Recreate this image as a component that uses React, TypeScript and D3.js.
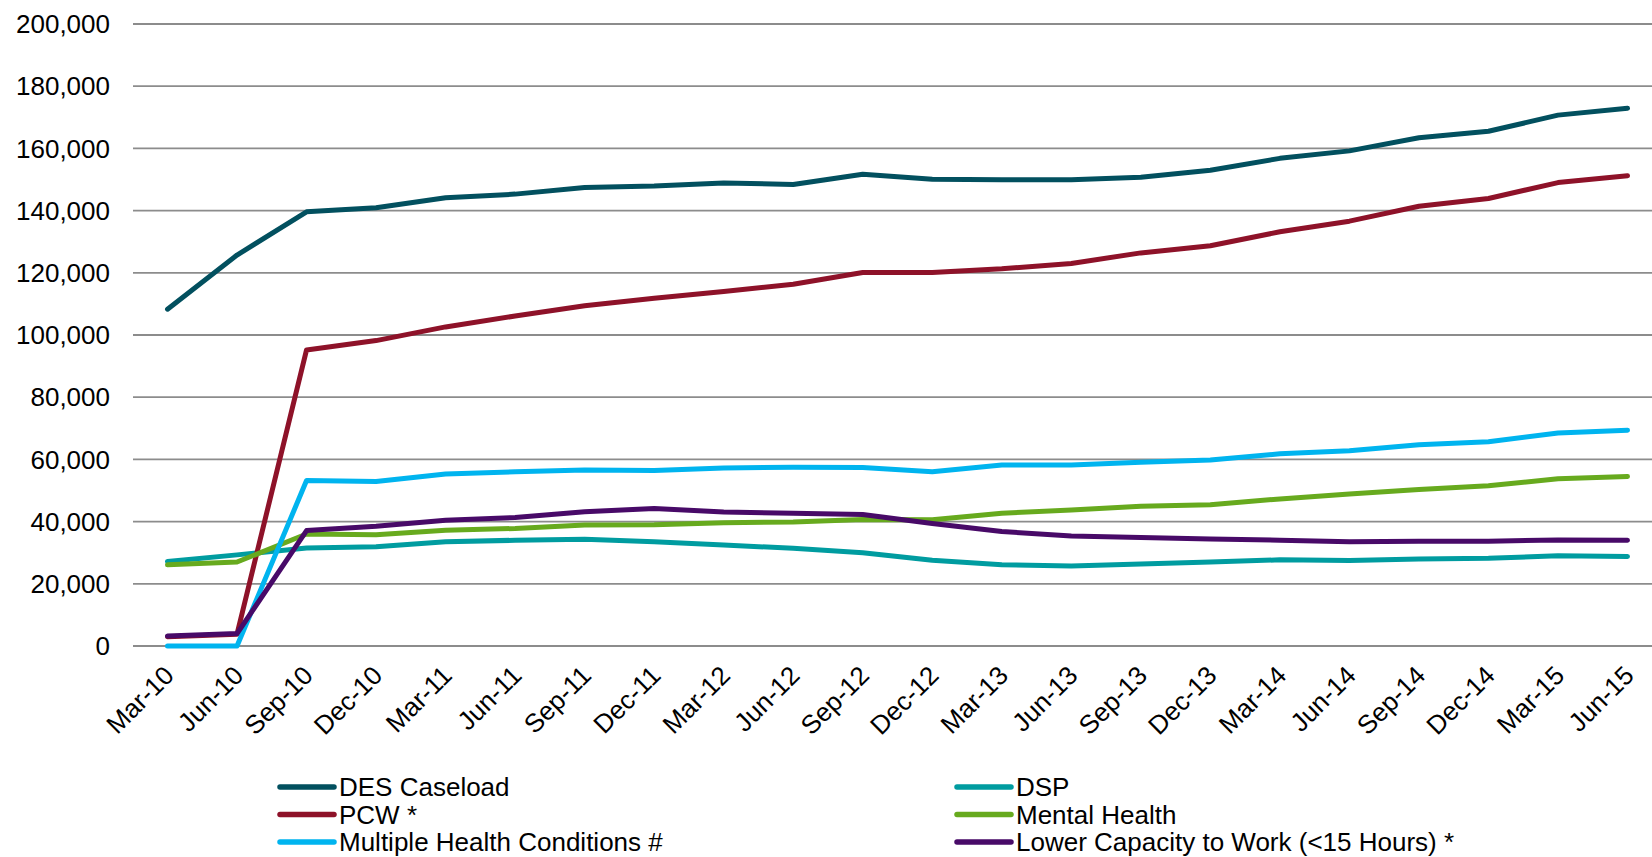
import React from "react";
import * as d3 from "d3";

const categories = [
  "Mar-10", "Jun-10", "Sep-10", "Dec-10", "Mar-11", "Jun-11", "Sep-11", "Dec-11",
  "Mar-12", "Jun-12", "Sep-12", "Dec-12", "Mar-13", "Jun-13", "Sep-13", "Dec-13",
  "Mar-14", "Jun-14", "Sep-14", "Dec-14", "Mar-15", "Jun-15",
];

const desCaseload = [108300, 125700, 139600, 140900, 144100, 145300, 147400, 147900, 148900, 148400, 151700, 150100, 149900, 149900, 150700, 153000, 156800, 159200, 163400, 165500, 170700, 172900];
const dsp = [27200, 29300, 31500, 31900, 33500, 34000, 34300, 33500, 32500, 31400, 30000, 27600, 26100, 25700, 26400, 27000, 27700, 27500, 28000, 28200, 29000, 28800];
const pcw = [3000, 3800, 95200, 98200, 102600, 106100, 109400, 111800, 114000, 116300, 120100, 120100, 121300, 123000, 126400, 128700, 133200, 136600, 141400, 143900, 149000, 151200];
const mentalHealth = [26100, 27000, 36000, 35800, 37200, 37800, 38900, 39000, 39600, 39900, 40700, 40600, 42700, 43700, 44900, 45400, 47300, 48900, 50300, 51500, 53800, 54500];
const multipleHealth = [0, 0, 53200, 52900, 55300, 56000, 56600, 56400, 57200, 57500, 57400, 56000, 58200, 58200, 59100, 59800, 61800, 62800, 64700, 65700, 68500, 69400];
const lowerCapacity = [3200, 4000, 37100, 38500, 40400, 41300, 43200, 44200, 43100, 42700, 42300, 39400, 36800, 35400, 34900, 34400, 34000, 33500, 33700, 33700, 34100, 34000];

const yTicks = [0, 20000, 40000, 60000, 80000, 100000, 120000, 140000, 160000, 180000, 200000];

const seriesNames = [
  "DES Caseload", "DSP", "PCW *", "Mental Health", "Multiple Health Conditions #", "Lower Capacity to Work (<15 Hours) *",
];
const seriesData = [desCaseload, dsp, pcw, mentalHealth, multipleHealth, lowerCapacity];
const seriesColors = ["#02505f", "#009ca0", "#8e1229", "#67aa1e", "#00b4ef", "#480a68"];

const W = 1652;
const H = 857;
const FONT = "'Liberation Sans', Arial, Helvetica, sans-serif";

export default function App() {
  const x = d3.scalePoint<string>().domain(categories).range([167.5, 1627.5]);
  const y = d3.scaleLinear().domain([0, 200000]).range([646, 24]);
  const line = d3
    .line<number>()
    .x((_, i) => x(categories[i]) as number)
    .y((d) => y(d));
  const fmt = d3.format(",");

  const legendCols = [
    { lx1: 280, lx2: 334, tx: 339 },
    { lx1: 957, lx2: 1011, tx: 1016 },
  ];
  const legendY = [787, 814.5, 842];

  return (
    <div style={{ position: "absolute", left: 0, top: 0 }}>
      <svg width={W} height={H} style={{ display: "block", background: "#fff" }} fontFamily={FONT}>
        <rect x={0} y={0} width={W} height={H} fill="#ffffff" />
        {yTicks.map((t) => (
          <g key={t}>
            <line x1={133} x2={W} y1={y(t)} y2={y(t)} stroke="#8c8c8c" strokeWidth={1.8} />
            <text x={110} y={y(t)} dy="0.35em" textAnchor="end" fontSize={26} fill="#000">
              {fmt(t)}
            </text>
          </g>
        ))}
        {categories.map((c) => (
          <text
            key={c}
            transform={`translate(${(x(c) as number) + 8},677) rotate(-45)`}
            textAnchor="end"
            fontSize={26}
            fill="#000"
          >
            {c}
          </text>
        ))}
        {seriesData.map((s, i) => (
          <path
            key={seriesNames[i]}
            d={line(s) || ""}
            fill="none"
            stroke={seriesColors[i]}
            strokeWidth={5}
            strokeLinejoin="round"
            strokeLinecap="round"
          />
        ))}
        {seriesNames.map((n, i) => {
          const col = legendCols[i % 2];
          const ly = legendY[Math.floor(i / 2)];
          return (
            <g key={n}>
              <line x1={col.lx1} x2={col.lx2} y1={ly} y2={ly} stroke={seriesColors[i]} strokeWidth={5.5} strokeLinecap="round" />
              <text x={col.tx} y={ly} dy="0.35em" fontSize={26} fill="#000">
                {n}
              </text>
            </g>
          );
        })}
      </svg>
    </div>
  );
}
